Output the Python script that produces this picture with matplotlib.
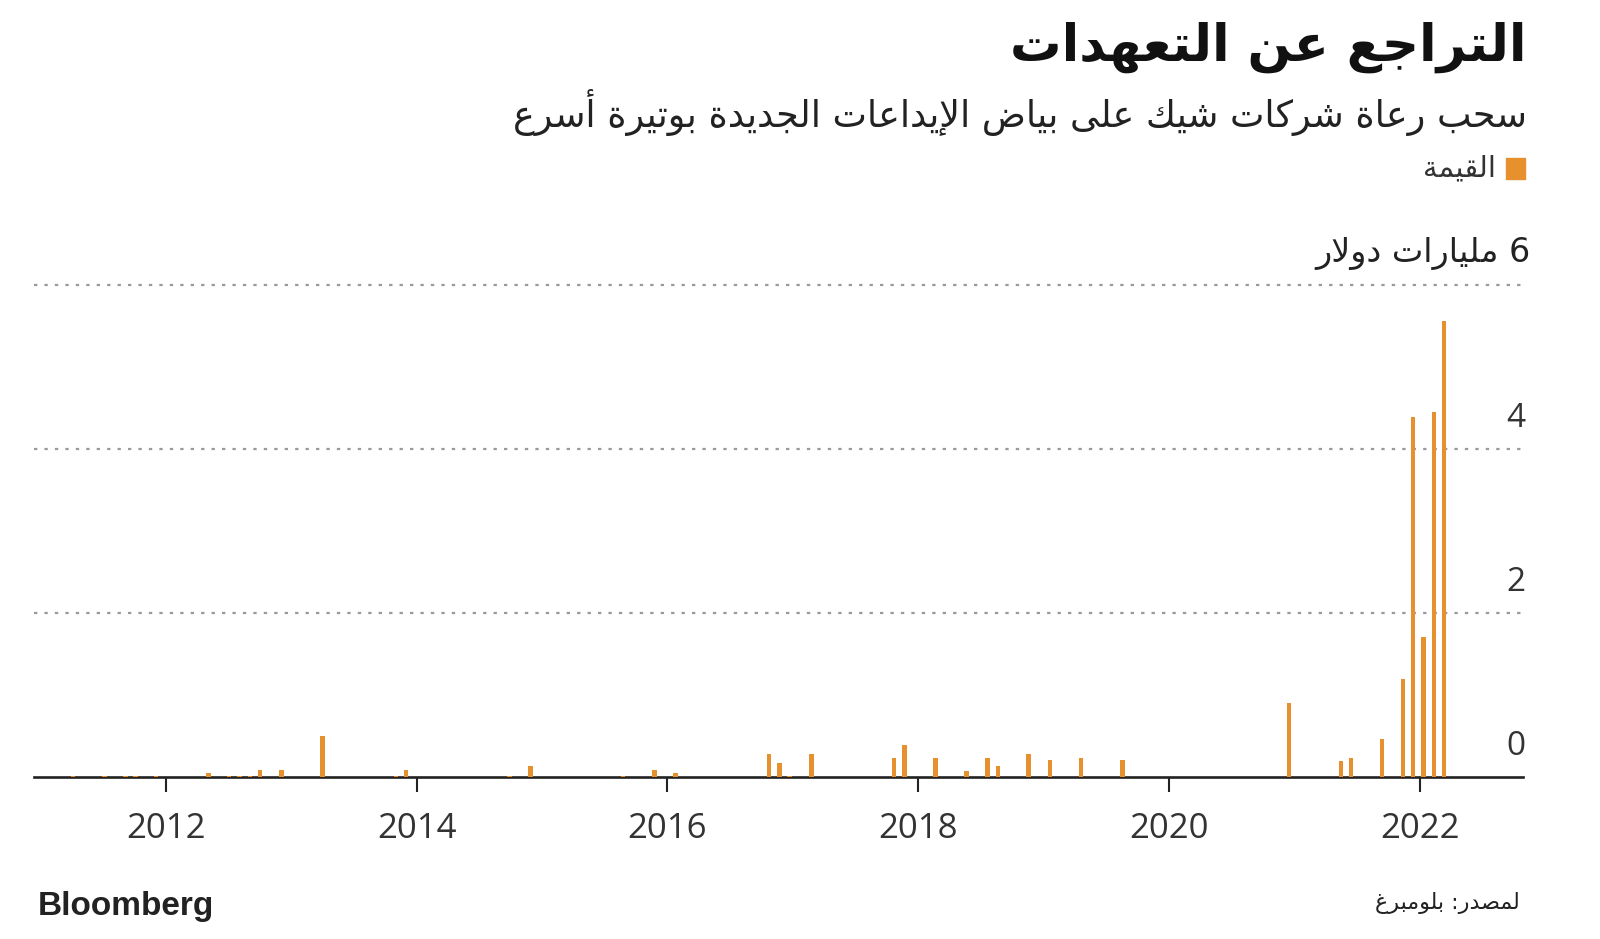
import matplotlib
matplotlib.use("Agg")
import matplotlib.pyplot as plt
import matplotlib.dates as mdates
import numpy as np
from datetime import datetime
from matplotlib.patches import Rectangle
import matplotlib.transforms as mtransforms

# ---------------- data ----------------
dates = ['2011-04-05', '2011-07-06', '2011-09-05', '2011-10-04', '2011-12-02',
         '2012-05-03', '2012-07-03', '2012-08-02', '2012-09-02', '2012-10-01', '2012-12-02',
         '2013-04-01', '2013-11-01', '2013-11-30',
         '2014-09-27', '2014-11-28',
         '2015-08-25', '2015-11-24', '2016-01-25',
         '2016-10-23', '2016-11-23', '2016-12-21', '2017-02-23',
         '2017-10-22', '2017-11-22', '2018-02-20',
         '2018-05-22', '2018-07-21', '2018-08-21', '2018-11-18',
         '2019-01-20', '2019-04-20', '2019-08-19',
         '2020-12-16',
         '2021-05-16', '2021-06-15', '2021-09-13',
         '2021-11-13', '2021-12-12', '2022-01-12', '2022-02-11', '2022-03-13']
values = [0.01, 0.01, 0.02, 0.02, 0.01,
          0.05, 0.01, 0.01, 0.02, 0.085, 0.085,
          0.50, 0.01, 0.085,
          0.01, 0.14,
          0.01, 0.085, 0.05,
          0.285, 0.18, 0.01, 0.29,
          0.23, 0.39, 0.23,
          0.077, 0.23, 0.14, 0.29,
          0.21, 0.24, 0.21,
          0.90,
          0.20, 0.23, 0.47,
          1.195, 4.39, 1.71, 4.45, 5.56]
year_ticks = [2012, 2014, 2016, 2018, 2020, 2022]
y_ticks = [0, 2, 4, 6]

title = "التراجع عن التعهدات"
subtitle = "سحب رعاة شركات شيك على بياض الإيداعات الجديدة بوتيرة أسرع"
legend_label = "القيمة"
unit_label = "6 مليارات دولار"
source = "لمصدر: بلومبرغ"

# ---------- minimal Arabic shaping (presentation forms) + RTL ordering ----------
FORMS = {
    '\u0627': (0xFE8D, False), '\u0623': (0xFE83, False), '\u0625': (0xFE87, False),
    '\u0622': (0xFE81, False), '\u0628': (0xFE8F, True), '\u0629': (0xFE93, False),
    '\u062A': (0xFE95, True), '\u062B': (0xFE99, True), '\u062C': (0xFE9D, True),
    '\u062D': (0xFEA1, True), '\u062E': (0xFEA5, True), '\u062F': (0xFEA9, False),
    '\u0630': (0xFEAB, False), '\u0631': (0xFEAD, False), '\u0632': (0xFEAF, False),
    '\u0633': (0xFEB1, True), '\u0634': (0xFEB5, True), '\u0635': (0xFEB9, True),
    '\u0636': (0xFEBD, True), '\u0637': (0xFEC1, True), '\u0638': (0xFEC5, True),
    '\u0639': (0xFEC9, True), '\u063A': (0xFECD, True), '\u0641': (0xFED1, True),
    '\u0642': (0xFED5, True), '\u0643': (0xFED9, True), '\u0644': (0xFEDD, True),
    '\u0645': (0xFEE1, True), '\u0646': (0xFEE5, True), '\u0647': (0xFEE9, True),
    '\u0648': (0xFEED, False), '\u0649': (0xFEEF, False), '\u064A': (0xFEF1, True),
}
LAM_ALEF = {'\u0627': 0xFEFB, '\u0623': 0xFEF7, '\u0625': 0xFEF9, '\u0622': 0xFEF5}


def shape_ar(s):
    toks = []
    i = 0
    while i < len(s):
        c = s[i]
        if c == '\u0644' and i + 1 < len(s) and s[i + 1] in LAM_ALEF:
            toks.append(('A', LAM_ALEF[s[i + 1]], False))
            i += 2
            continue
        if c in FORMS:
            toks.append(('A', FORMS[c][0], FORMS[c][1]))
        else:
            toks.append(('N', c, False))
        i += 1
    out = []
    for k, t in enumerate(toks):
        if t[0] == 'N':
            out.append(t[1])
            continue
        prev_j = k > 0 and toks[k - 1][0] == 'A' and toks[k - 1][2]
        next_j = t[2] and k + 1 < len(toks) and toks[k + 1][0] == 'A'
        if prev_j and next_j:
            off = 3
        elif prev_j:
            off = 1
        elif next_j:
            off = 2
        else:
            off = 0
        out.append(chr(t[1] + off))
    return ''.join(out)[::-1]


# ---------------- figure ----------------
W, H = 1600, 939
fig = plt.figure(figsize=(W / 100, H / 100), dpi=100)
fig.patch.set_facecolor('white')

AR = ['DejaVu Sans']
NUM = ['Open Sans', 'DejaVu Sans']
BAR_COL = '#E6902E'

def fx(x):
    return x / W

def fy(y):
    return 1 - y / H

ax_left, ax_right = 34, 1523
y0_px, px_per_unit = 777.3, 82.05
ytop = 6.05
ax = fig.add_axes([fx(ax_left), fy(y0_px), (ax_right - ax_left) / W,
                   (ytop * px_per_unit) / H])

x = [datetime.strptime(d, '%Y-%m-%d') for d in dates]
ax.bar(x, values, width=13, color=BAR_COL, align='center', zorder=4, linewidth=0)

ax.set_xlim(datetime(2010, 12, 12), datetime(2022, 10, 29))
ax.set_ylim(0, ytop)

# gridlines
for v in y_ticks[1:]:
    ax.axhline(v, color='#9a9a9a', lw=1.6, ls=(0, (1.5, 3.2)), zorder=1)

for s in ['top', 'left', 'right']:
    ax.spines[s].set_visible(False)
ax.spines['bottom'].set_color('#222222')
ax.spines['bottom'].set_linewidth(1.9)
ax.spines['bottom'].set_zorder(3)

ax.set_yticks([])
ax.set_xticks([datetime(y, 1, 1) for y in year_ticks])
ax.set_xticklabels([str(y) for y in year_ticks])
ax.tick_params(axis='x', length=11, width=1.5, color='#222222', pad=14,
               labelsize=25, labelcolor='#333333')
for lab in ax.get_xticklabels():
    lab.set_family(NUM)

# y labels (above gridlines, right-aligned)
off = mtransforms.offset_copy(ax.transData, fig=fig, x=0, y=31, units='dots')
blend = mtransforms.blended_transform_factory(fig.transFigure, off)
for v in y_ticks[:-1]:
    ax.text(fx(1525), v, str(v), transform=blend, ha='right', va='center',
            fontsize=24, color='#333333', family=NUM)
ax.text(fx(1531), 6, shape_ar(unit_label), transform=blend, ha='right', va='center',
        fontsize=24, color='#222222', family=AR)

# titles
fig.text(fx(1527), fy(47), shape_ar(title), ha='right', va='center',
         fontsize=37, fontweight='bold', color='#111111', family=AR)
fig.text(fx(1527), fy(113), shape_ar(subtitle), ha='right', va='center',
         fontsize=26.3, color='#222222', family=AR)

# legend
fig.patches.append(Rectangle((fx(1506), fy(179)), fx(19), 21 / H,
                             transform=fig.transFigure, color=BAR_COL))
fig.text(fx(1496), fy(168), shape_ar(legend_label), ha='right', va='center',
         fontsize=21, color='#333333', family=AR)

# footer
fig.text(fx(38), fy(907), 'Bloomberg', ha='left', va='center', fontsize=24,
         fontweight='bold', color='#222222', family=['Liberation Sans', 'DejaVu Sans'])
fig.text(fx(1520), fy(903), shape_ar(source), ha='right', va='center',
         fontsize=16, color='#222222', family=AR)

fig.savefig('out.png', dpi=100, facecolor='white')
